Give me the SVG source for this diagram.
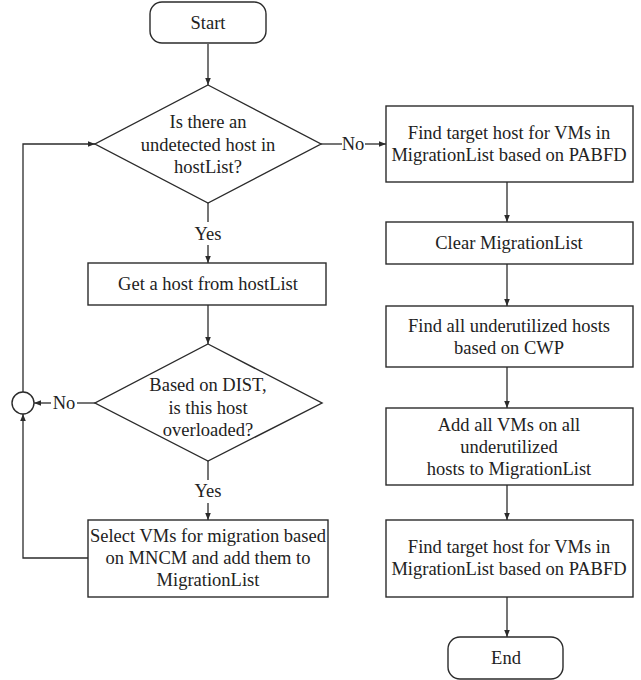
<svg xmlns="http://www.w3.org/2000/svg" width="641" height="680" viewBox="0 0 641 680">
<defs>
<marker id="ah" viewBox="0 0 8 8" refX="8" refY="4" markerWidth="7" markerHeight="7" markerUnits="userSpaceOnUse" orient="auto">
<path d="M0,0.8 L8,4 L0,7.2 Z" fill="#2b2b2b"/>
</marker>
<style>
.s{fill:#fff;stroke:#2b2b2b;stroke-width:1.4}
.c{fill:none;stroke:#2b2b2b;stroke-width:1.3}
.t{font-family:'Liberation Serif','Times New Roman',serif;font-size:18.5px;fill:#222;text-anchor:middle}
</style>
</defs>
<rect width="641" height="680" fill="#fff"/>
<g id="connectors">
<path class="c" d="M208,44 V85" marker-end="url(#ah)"/>
<path class="c" d="M208,203 V222"/>
<path class="c" d="M208,245 V263" marker-end="url(#ah)"/>
<path class="c" d="M208,305 V344" marker-end="url(#ah)"/>
<path class="c" d="M208,461 V480"/>
<path class="c" d="M208,503 V520" marker-end="url(#ah)"/>
<path class="c" d="M95,403 H77"/>
<path class="c" d="M51,403 H34" marker-end="url(#ah)"/>
<path class="c" d="M88,558 H23 V414" marker-end="url(#ah)"/>
<path class="c" d="M23,392 V144 H95" marker-end="url(#ah)"/>
<path class="c" d="M321,144 H342"/>
<path class="c" d="M365,144 H386" marker-end="url(#ah)"/>
<path class="c" d="M507,182 V222" marker-end="url(#ah)"/>
<path class="c" d="M507,264 V306" marker-end="url(#ah)"/>
<path class="c" d="M507,367 V408" marker-end="url(#ah)"/>
<path class="c" d="M507,485 V520" marker-end="url(#ah)"/>
<path class="c" d="M507,597 V637" marker-end="url(#ah)"/>
<text class="t" x="208" y="240">Yes</text>
<text class="t" x="208" y="497">Yes</text>
<text class="t" x="64" y="409">No</text>
<text class="t" x="353" y="150">No</text>
</g>
<g id="start">
<rect class="s" x="150" y="2" width="116" height="41" rx="12"/>
<text class="t" x="208" y="29">Start</text>
</g>
<g id="decision1">
<polygon class="s" points="208,85 321,144 208,203 95,144"/>
<text class="t" x="208" y="128">Is there an</text>
<text class="t" x="208" y="151">undetected host in</text>
<text class="t" x="208" y="173">hostList?</text>
</g>
<g id="gethost">
<rect class="s" x="88" y="263" width="238" height="42"/>
<text class="t" x="208" y="290">Get a host from hostList</text>
</g>
<g id="decision2">
<polygon class="s" points="208,344 322,403 208,461 95,403"/>
<text class="t" x="208" y="391">Based on DIST,</text>
<text class="t" x="208" y="414">is this host</text>
<text class="t" x="208" y="436">overloaded?</text>
</g>
<g id="junction">
<circle class="s" cx="23" cy="403" r="11"/>
</g>
<g id="select">
<rect class="s" x="88" y="520" width="240" height="77"/>
<text class="t" x="208" y="542">Select VMs for migration based</text>
<text class="t" x="208" y="564">on MNCM and add them to</text>
<text class="t" x="208" y="586">MigrationList</text>
</g>
<g id="find1">
<rect class="s" x="386" y="106" width="247" height="76"/>
<text class="t" x="509" y="139">Find target host for VMs in</text>
<text class="t" x="509" y="161">MigrationList based on PABFD</text>
</g>
<g id="clear">
<rect class="s" x="386" y="222" width="247" height="42"/>
<text class="t" x="509" y="249">Clear MigrationList</text>
</g>
<g id="findunder">
<rect class="s" x="386" y="306" width="247" height="61"/>
<text class="t" x="509" y="332">Find all underutilized hosts</text>
<text class="t" x="509" y="354">based on CWP</text>
</g>
<g id="addvms">
<rect class="s" x="386" y="408" width="247" height="77"/>
<text class="t" x="509" y="431">Add all VMs on all</text>
<text class="t" x="509" y="453">underutilized</text>
<text class="t" x="509" y="475">hosts to MigrationList</text>
</g>
<g id="find2">
<rect class="s" x="386" y="520" width="247" height="77"/>
<text class="t" x="509" y="553">Find target host for VMs in</text>
<text class="t" x="509" y="575">MigrationList based on PABFD</text>
</g>
<g id="end">
<rect class="s" x="448" y="637" width="115" height="42" rx="12"/>
<text class="t" x="506" y="664">End</text>
</g>
</svg>
